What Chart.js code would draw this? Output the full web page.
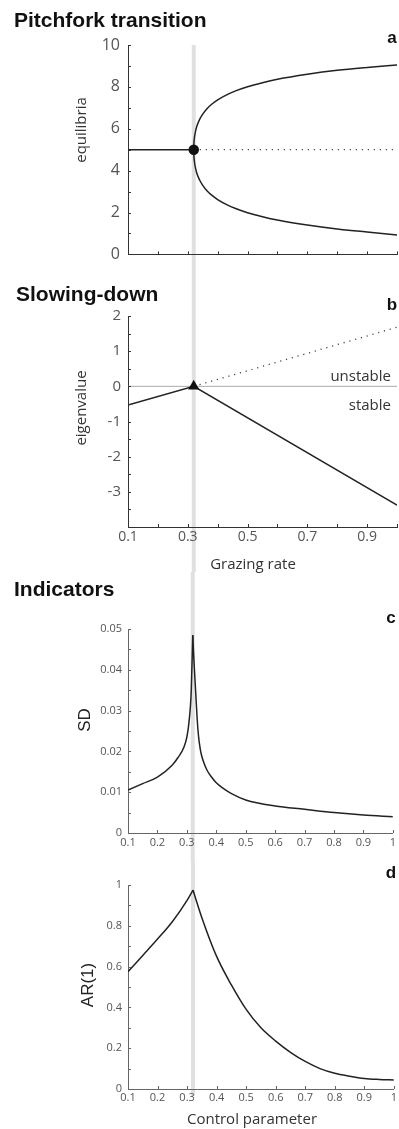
<!DOCTYPE html>
<html>
<head>
<meta charset="utf-8">
<script src="https://cdn.jsdelivr.net/npm/chart.js@4.4.0/dist/chart.umd.min.js"></script>
<style>
    body { margin: 0; background: #fff; }
    #wrap { position: relative; width: 399px; height: 1129px; overflow: hidden; }
    canvas { position: absolute; left: 0; }
    .t { position: absolute; white-space: nowrap; line-height: 1; transform: translateY(-50%); }
    .c { transform: translate(-50%, -50%); }
    .r { transform: translate(-100%, -50%); }
    .rot { transform: translate(-50%, -50%) rotate(-90deg); }
    .head { font: bold 21px "Liberation Sans", Arial, sans-serif; color: #111; }
    .letter { font: bold 17px "Liberation Sans", Arial, sans-serif; color: #111; }
    .lab { font: 15px "Open Sans", sans-serif; color: #333; }
    .arial { font: 17px "Liberation Sans", Arial, sans-serif; color: #222; }
</style>
</head>
<body>
<div id="wrap">
    <canvas id="chartA" width="399" height="272" style="top:0px"></canvas>
    <canvas id="chartB" width="399" height="300" style="top:272px"></canvas>
    <canvas id="chartC" width="399" height="290" style="top:572px"></canvas>
    <canvas id="chartD" width="399" height="267" style="top:862px"></canvas>

    <div class="t head" style="left:14px; top:20px">Pitchfork transition</div>
    <div class="t head" style="left:16px; top:294px">Slowing-down</div>
    <div class="t head" style="left:14px; top:589px">Indicators</div>

    <div class="t letter c" style="left:392px; top:38px">a</div>
    <div class="t letter c" style="left:392px; top:305px">b</div>
    <div class="t letter c" style="left:391px; top:618px">c</div>
    <div class="t letter c" style="left:391px; top:873px">d</div>

    <div class="t lab rot" style="left:80px; top:130px">equilibria</div>
    <div class="t lab rot" style="left:80px; top:408px">eigenvalue</div>
    <div class="t lab c" style="left:253px; top:563px">Grazing rate</div>
    <div class="t lab r" style="left:391px; top:375px">unstable</div>
    <div class="t lab r" style="left:391px; top:404px">stable</div>
    <div class="t arial rot" style="left:85px; top:720px">SD</div>
    <div class="t arial rot" style="left:88px; top:985px">AR(1)</div>
    <div class="t lab c" style="left:252px; top:1118px">Control parameter</div>
</div>
<script>
// position of the critical point (grey line)
const markX = 0.32

// a : pitchfork equilibria
const forkLeftX = [0.1, 0.32]
const forkLeftY = [5, 5]
const forkMidX = [0.32, 1.0]
const forkMidY = [5, 5]
const forkBranchX = [0.32, 0.3202, 0.321, 0.3225, 0.325, 0.33, 0.34, 0.35, 0.365, 0.38, 0.4, 0.43, 0.46, 0.5, 0.55, 0.6, 0.7, 0.8, 0.9, 1.0]
const forkUpperY = [5, 5.18, 5.4, 5.6, 5.82, 6.11, 6.46, 6.7, 6.97, 7.17, 7.38, 7.62, 7.81, 8.01, 8.2, 8.36, 8.6, 8.79, 8.93, 9.05]
const forkLowerY = [5, 4.82, 4.6, 4.4, 4.18, 3.89, 3.54, 3.3, 3.03, 2.83, 2.62, 2.38, 2.19, 1.99, 1.8, 1.64, 1.4, 1.21, 1.07, 0.93]

// b : eigenvalue
const eigStableX = [0.1, 0.32, 1.0]
const eigStableY = [-0.53, 0, -3.38]
const eigUnstableX = [0.32, 1.0]
const eigUnstableY = [0, 1.68]
const zeroX = [0.1, 1.0]
const zeroY = [0, 0]

// c : standard deviation
const sdX = [0.1, 0.15, 0.2, 0.25, 0.27, 0.29, 0.3, 0.307, 0.315, 0.32, 0.325, 0.33, 0.335, 0.34, 0.345, 0.35, 0.36, 0.37, 0.385, 0.4, 0.42, 0.45, 0.5, 0.6, 0.7, 0.8, 0.9, 1.0]
const sdY = [0.0105, 0.0121, 0.0137, 0.0166, 0.0185, 0.021, 0.0235, 0.027, 0.035, 0.0485, 0.041, 0.0345, 0.028, 0.0235, 0.0208, 0.019, 0.0168, 0.0152, 0.0136, 0.0123, 0.0111, 0.0097, 0.0081, 0.0066, 0.0058, 0.005, 0.0044, 0.004]

// d : lag-1 autocorrelation
const arX = [0.1, 0.15, 0.2, 0.25, 0.3, 0.32, 0.35, 0.4, 0.45, 0.5, 0.55, 0.6, 0.65, 0.7, 0.75, 0.8, 0.85, 0.9, 0.95, 1.0]
const arY = [0.575, 0.655, 0.735, 0.82, 0.925, 0.975, 0.84, 0.65, 0.51, 0.39, 0.3, 0.235, 0.18, 0.135, 0.1, 0.077, 0.063, 0.052, 0.047, 0.044]

// tick labels
const yLabelsA = [0, 2, 4, 6, 8, 10]
const yLabelsB = [-3, -2, -1, 0, 1, 2]
const xLabelsB = [0.1, 0.3, 0.5, 0.7, 0.9]
const yLabelsC = [0, 0.01, 0.02, 0.03, 0.04, 0.05]
const yLabelsD = [0, 0.2, 0.4, 0.6, 0.8, 1]
const xLabelsCD = [0.1, 0.2, 0.3, 0.4, 0.5, 0.6, 0.7, 0.8, 0.9, 1]

const pts = (xs, ys) => xs.map((x, i) => ({ x: x, y: ys[i] }))
const has = (list, v) => list.some(l => Math.abs(l - v) < 1e-9)
const fmt = v => String(+v.toFixed(3))
// split a curve at the critical point so the peak stays sharp
const before = (xs, ys) => pts(xs, ys).filter(p => p.x <= markX)
const after = (xs, ys) => pts(xs, ys).filter(p => p.x >= markX)

// grey vertical line at the critical point
const markLine = {
    id: 'markLine',
    beforeDraw(chart, args, opts) {
        const ctx = chart.ctx
        const px = chart.scales.x.getPixelForValue(markX)
        const top = opts.top != null ? opts.top : chart.chartArea.top
        const bottom = opts.bottom != null ? opts.bottom : chart.height
        ctx.save()
        ctx.fillStyle = '#e0e0e0'
        ctx.fillRect(px - 2, top, 4, bottom - top)
        ctx.restore()
    }
}

// matlab-like ticks pointing into the plot
const inwardTicks = {
    id: 'inwardTicks',
    afterDraw(chart, args, opts) {
        const ctx = chart.ctx
        const area = chart.chartArea
        const { x, y } = chart.scales
        ctx.save()
        ctx.strokeStyle = opts.color
        ctx.lineWidth = 1
        ctx.beginPath()
        for (const t of x.ticks) {
            const px = Math.round(x.getPixelForValue(t.value)) + 0.5
            ctx.moveTo(px, area.bottom)
            ctx.lineTo(px, area.bottom - 3)
        }
        for (const t of y.ticks) {
            const py = Math.round(y.getPixelForValue(t.value)) + 0.5
            ctx.moveTo(area.left, py)
            ctx.lineTo(area.left + 3, py)
        }
        ctx.stroke()
        ctx.restore()
    }
}

function axis(o) {
    return {
        type: 'linear',
        min: o.min,
        max: o.max,
        grid: { display: true, drawOnChartArea: false, drawTicks: false },
        border: { display: true, color: o.color, width: 1 },
        ticks: {
            stepSize: o.step,
            autoSkip: false,
            maxRotation: 0,
            padding: o.pad,
            color: '#555',
            font: { family: "'Open Sans', sans-serif", size: o.size },
            callback: v => has(o.labels, v) ? fmt(v) : ''
        },
        afterFit: o.fit
    }
}

function curve(data, extra) {
    return Object.assign({
        data: data,
        borderColor: '#222',
        borderWidth: 1.5,
        pointRadius: 0,
        fill: false,
        cubicInterpolationMode: 'monotone'
    }, extra || {})
}

function makeChart(id, cfg) {
    return new Chart(document.querySelector(id), {
        type: 'line',
        data: { datasets: cfg.datasets },
        options: {
            responsive: false,
            animation: false,
            events: [],
            layout: { autoPadding: false, padding: { top: cfg.top, right: 2, bottom: 0, left: 0 } },
            plugins: {
                legend: { display: false },
                tooltip: { enabled: false },
                markLine: cfg.mark,
                inwardTicks: { color: cfg.color }
            },
            scales: {
                x: axis(Object.assign({ min: 0.1, max: 1.0, step: 0.1, color: cfg.color, fit: s => { s.height = cfg.xh } }, cfg.x)),
                y: axis(Object.assign({ color: cfg.color, fit: s => { s.width = 128 } }, cfg.y))
            }
        },
        plugins: [markLine, inwardTicks]
    })
}

// a
makeChart('#chartA', {
    top: 45, xh: 14, color: '#333',
    mark: { top: null, bottom: 272 },
    x: { labels: [], size: 14, pad: 2 },
    y: { min: 0, max: 10, step: 1, labels: yLabelsA, size: 16, pad: 8 },
    datasets: [
        curve([{ x: markX, y: 5 }], { pointRadius: 4.5, pointBackgroundColor: '#111', pointBorderColor: '#111', showLine: false }),
        curve(pts(forkLeftX, forkLeftY)),
        curve(pts(forkBranchX, forkUpperY)),
        curve(pts(forkBranchX, forkLowerY)),
        curve(pts(forkMidX, forkMidY), { borderDash: [1.2, 4.8], borderWidth: 1.3, borderColor: '#444' })
    ]
})

// b
makeChart('#chartB', {
    top: 44, xh: 45, color: '#333',
    mark: { top: 0, bottom: 300 },
    x: { labels: xLabelsB, size: 14, pad: 2 },
    y: { min: -4, max: 2, step: 0.5, labels: yLabelsB, size: 15, pad: 7 },
    datasets: [
        curve([{ x: markX, y: 0 }], { pointRadius: 5, pointStyle: 'triangle', pointBackgroundColor: '#111', pointBorderColor: '#111', showLine: false }),
        curve(pts(eigStableX, eigStableY), { cubicInterpolationMode: 'default', tension: 0 }),
        curve(pts(eigUnstableX, eigUnstableY), { tension: 0, borderDash: [1.2, 4.8], borderWidth: 1.3, borderColor: '#444' }),
        curve(pts(zeroX, zeroY), { tension: 0, borderColor: '#aaa', borderWidth: 1 })
    ]
})

// c
makeChart('#chartC', {
    top: 57, xh: 29, color: '#666',
    mark: { top: 0, bottom: 290 },
    x: { labels: xLabelsCD, size: 11, pad: 3 },
    y: { min: 0, max: 0.05, step: 0.005, labels: yLabelsC, size: 11, pad: 6 },
    datasets: [curve(before(sdX, sdY)), curve(after(sdX, sdY))]
})

// d
makeChart('#chartD', {
    top: 23, xh: 40, color: '#666',
    mark: { top: 0, bottom: 234 },
    x: { labels: xLabelsCD, size: 11, pad: 2 },
    y: { min: 0, max: 1, step: 0.1, labels: yLabelsD, size: 11, pad: 6 },
    datasets: [curve(before(arX, arY)), curve(after(arX, arY))]
})
</script>
</body>
</html>
